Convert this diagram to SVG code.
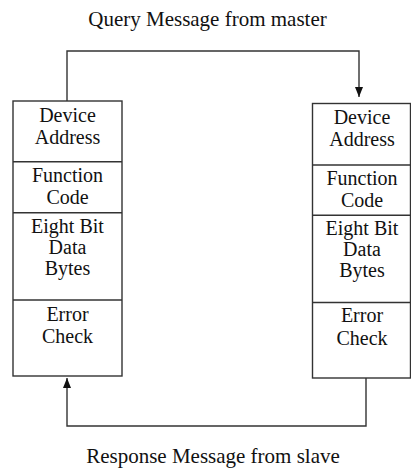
<svg xmlns="http://www.w3.org/2000/svg" width="411" height="470" viewBox="0 0 411 470">
<defs>
<style>
.box{fill:#fff;stroke:#333;stroke-width:1.4}
.div{stroke:#333;stroke-width:1.4}
.t{font-family:"Liberation Serif","Times New Roman",serif;font-size:20px;fill:#111;text-anchor:middle}
.title{font-family:"Liberation Serif","Times New Roman",serif;font-size:21px;fill:#111;text-anchor:middle}
.conn{fill:none;stroke:#333;stroke-width:1.4}
</style>
<marker id="ah" viewBox="0 0 10 8" refX="10" refY="4" markerWidth="10" markerHeight="8" markerUnits="userSpaceOnUse" orient="auto">
<path d="M0,0 L10,4 L0,8 Z" fill="#111"/>
</marker>
</defs>
<rect width="411" height="470" fill="#fff"/>
<text class="title" x="207.5" y="26">Query Message from master</text>
<text class="title" x="213" y="463">Response Message from slave</text>
<g id="connectors">
<path class="conn" d="M67,101 V51 H359 V97" marker-end="url(#ah)"/>
<path class="conn" d="M366,378 V426 H67 V378" marker-end="url(#ah)"/>
</g>
<g id="master">
<rect class="box" x="13" y="101" width="109" height="275"/>
<line class="div" x1="13" y1="161.7" x2="122" y2="161.7"/>
<line class="div" x1="13" y1="212.7" x2="122" y2="212.7"/>
<line class="div" x1="13" y1="300" x2="122" y2="300"/>
<text class="t" x="67.5" y="121.5">Device</text>
<text class="t" x="67.5" y="143.5">Address</text>
<text class="t" x="67.5" y="182">Function</text>
<text class="t" x="67.5" y="203.5">Code</text>
<text class="t" x="67.5" y="232.5">Eight Bit</text>
<text class="t" x="67.5" y="254">Data</text>
<text class="t" x="67.5" y="275">Bytes</text>
<text class="t" x="67.5" y="320.5">Error</text>
<text class="t" x="67.5" y="343">Check</text>
</g>
<g id="slave">
<rect class="box" x="312.5" y="103.5" width="98" height="274.5"/>
<line class="div" x1="312.5" y1="165" x2="410.5" y2="165"/>
<line class="div" x1="312.5" y1="215.3" x2="410.5" y2="215.3"/>
<line class="div" x1="312.5" y1="302.5" x2="410.5" y2="302.5"/>
<text class="t" x="362" y="123.5">Device</text>
<text class="t" x="362" y="145.5">Address</text>
<text class="t" x="362" y="184.5">Function</text>
<text class="t" x="362" y="206.5">Code</text>
<text class="t" x="362" y="234.5">Eight Bit</text>
<text class="t" x="362" y="256">Data</text>
<text class="t" x="362" y="277">Bytes</text>
<text class="t" x="362" y="322">Error</text>
<text class="t" x="362" y="345">Check</text>
</g>
</svg>
